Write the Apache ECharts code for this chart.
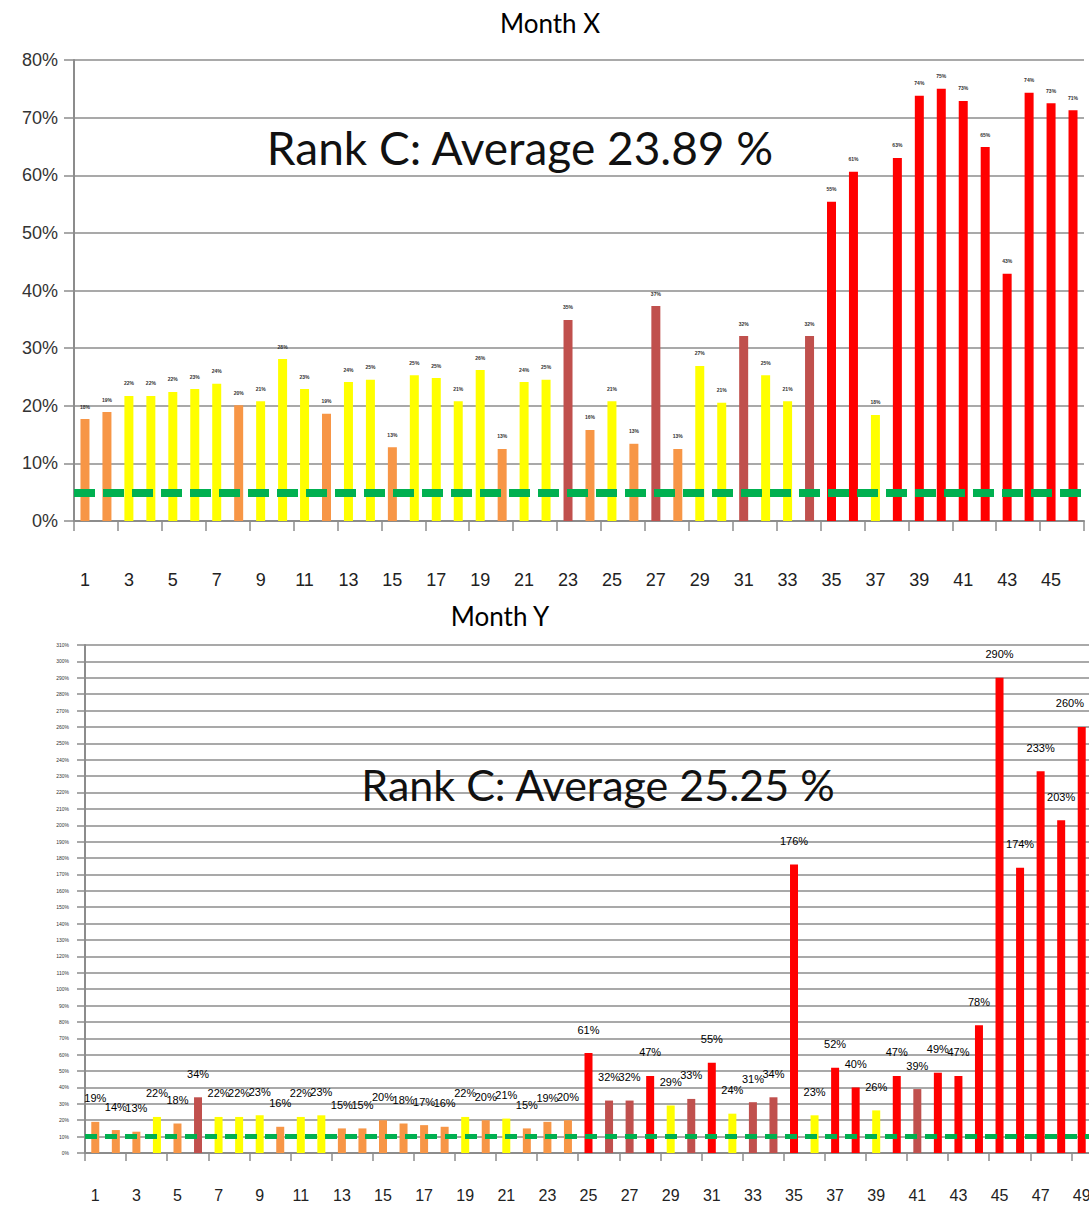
<!DOCTYPE html>
<html>
<head>
<meta charset="utf-8">
<script src="https://cdn.jsdelivr.net/npm/echarts@6/dist/echarts.min.js"></script>
<style>
  html, body { margin: 0; padding: 0; background: #fff; }
  #chart { width: 1089px; height: 1207px; }
</style>
</head>
<body>
<div id="chart"></div>
<script>
// Month X
const daysX = ['1','2','3','4','5','6','7','8','9','10','11','12','13','14','15','16','17','18','19','20','21','22','23','24','25','26','27','28','29','30','31','32','33','34','35','36','37','38','39','40','41','42','43','44','45','46'];
const valuesX = [17.7, 18.9, 21.7, 21.7, 22.4, 22.9, 23.8, 20.1, 20.8, 28.1, 22.9, 18.6, 24.1, 24.5, 12.8, 25.3, 24.8, 20.8, 26.2, 12.5, 24.1, 24.5, 34.9, 15.8, 20.8, 13.4, 37.3, 12.5, 26.9, 20.5, 32.1, 25.3, 20.8, 32.1, 55.4, 60.6, 18.4, 63.0, 73.8, 75.0, 72.9, 64.9, 42.9, 74.3, 72.5, 71.3];
const rankX = ['O','O','Y','Y','Y','Y','Y','O','Y','Y','Y','O','Y','Y','O','Y','Y','Y','Y','O','Y','Y','B','O','Y','O','B','O','Y','Y','B','Y','Y','B','R','R','Y','R','R','R','R','R','R','R','R','R'];
const targetX = 4.9;

// Month Y
const daysY = ['1','2','3','4','5','6','7','8','9','10','11','12','13','14','15','16','17','18','19','20','21','22','23','24','25','26','27','28','29','30','31','32','33','34','35','36','37','38','39','40','41','42','43','44','45','46','47','48','49'];
const valuesY = [19, 14, 13, 22, 18, 34, 22, 22, 23, 16, 22, 23, 15, 15, 20, 18, 17, 16, 22, 20, 21, 15, 19, 20, 61, 32, 32, 47, 29, 33, 55, 24, 31, 34, 176, 23, 52, 40, 26, 47, 39, 49, 47, 78, 290, 174, 233, 203, 260];
const rankY = ['O','O','O','Y','O','B','Y','Y','Y','O','Y','Y','O','O','O','O','O','O','Y','O','Y','O','O','O','R','B','B','R','Y','B','R','Y','B','B','R','Y','R','R','Y','R','B','R','R','R','R','R','R','R','R'];
const targetY = 10.5;

const rankColor = { O: '#F79646', Y: '#FFFF00', B: '#C0504D', R: '#FF0000' };

const chart = echarts.init(document.getElementById('chart'), null, { renderer: 'svg' });

function barData(values, ranks) {
  return values.map((v, i) => ({ value: v, itemStyle: { color: rankColor[ranks[i]] } }));
}

const gridLine = { show: true, lineStyle: { color: '#8c8c8c', width: 1.5 } };
const axisGray = { show: true, lineStyle: { color: '#8c8c8c', width: 2 } };

const option = {
  animation: false,
  backgroundColor: '#fff',
  title: [
    { text: 'Month X', left: 545, top: 5, textAlign: 'center',
      textStyle: { fontFamily: 'Lato', fontSize: 26, fontWeight: 'normal', color: '#000' } },
    { text: 'Month Y', left: 495, top: 598, textAlign: 'center',
      textStyle: { fontFamily: 'Lato', fontSize: 26, fontWeight: 'normal', color: '#000' } }
  ],
  graphic: [
    { type: 'text', z: 100, style: { text: 'Rank C: Average 23.89 %', x: 520, y: 147, textAlign: 'center', textVerticalAlign: 'middle',
        fontFamily: 'Lato', fontSize: 46, fill: '#111', shadowBlur: 4, shadowColor: 'rgba(0,0,0,0.45)', shadowOffsetX: 3, shadowOffsetY: 3 } },
    { type: 'text', z: 100, style: { text: 'Rank C: Average 25.25 %', x: 598, y: 784, textAlign: 'center', textVerticalAlign: 'middle',
        fontFamily: 'Lato', fontSize: 43, fill: '#111', shadowBlur: 4, shadowColor: 'rgba(0,0,0,0.45)', shadowOffsetX: 3, shadowOffsetY: 3 } }
  ],
  grid: [
    { left: 74, top: 60, width: 1010, height: 461, outerBoundsMode: 'none' },
    { left: 85, top: 645, width: 1007, height: 508, outerBoundsMode: 'none' }
  ],
  xAxis: [
    { type: 'category', gridIndex: 0, data: daysX, axisLine: axisGray,
      axisTick: { show: true, length: 10, lineStyle: { color: '#8c8c8c', width: 1.5 } },
      axisLabel: { interval: 1, margin: 50, fontFamily: 'Liberation Sans', fontSize: 18, color: '#222' } },
    { type: 'category', gridIndex: 1, data: daysY, axisLine: axisGray,
      axisTick: { show: true, length: 8, lineStyle: { color: '#8c8c8c', width: 1.5 } },
      axisLabel: { interval: 1, margin: 34, fontFamily: 'Liberation Sans', fontSize: 16, color: '#222' } }
  ],
  yAxis: [
    { type: 'value', gridIndex: 0, min: 0, max: 80, interval: 10, splitLine: gridLine, axisLine: axisGray,
      axisTick: { show: true, length: 10, lineStyle: { color: '#8c8c8c', width: 1.5 } },
      axisLabel: { formatter: '{value}%', margin: 16, fontFamily: 'Liberation Sans', fontSize: 18, color: '#333' } },
    { type: 'value', gridIndex: 1, min: 0, max: 310, interval: 10, splitLine: gridLine, axisLine: axisGray,
      axisTick: { show: true, length: 8, lineStyle: { color: '#8c8c8c', width: 1.5 } },
      axisLabel: { formatter: '{value}%', margin: 16, fontFamily: 'Liberation Sans', fontSize: 5, color: '#333' } }
  ],
  series: [
    {
      type: 'bar', xAxisIndex: 0, yAxisIndex: 0, barWidth: 9,
      data: barData(valuesX, rankX),
      label: { show: true, position: 'top', distance: 10, fontSize: 5, fontWeight: 'bold', color: '#333',
        formatter: p => Math.round(p.value) + '%' },
      markLine: {
        silent: true, symbol: 'none', label: { show: false },
        lineStyle: { color: '#00B050', width: 8, type: [21, 8], opacity: 1 },
        data: [{ yAxis: targetX }]
      }
    },
    {
      type: 'bar', xAxisIndex: 1, yAxisIndex: 1, barWidth: 8,
      data: barData(valuesY, rankY),
      label: { show: true, position: 'top', distance: 18, fontFamily: 'Liberation Sans', fontSize: 11, color: '#000',
        formatter: p => Math.round(p.value) + '%' },
      labelLayout: p => {
        const r = p.labelRect;
        const over = r.x + r.width - 1084;
        return over > 0 ? { dx: -over } : {};
      },
      markLine: {
        silent: true, symbol: 'none', label: { show: false },
        lineStyle: { color: '#00B050', width: 5, type: [12, 8], opacity: 1 },
        data: [{ yAxis: targetY }]
      }
    }
  ]
};

chart.setOption(option);
</script>
</body>
</html>
